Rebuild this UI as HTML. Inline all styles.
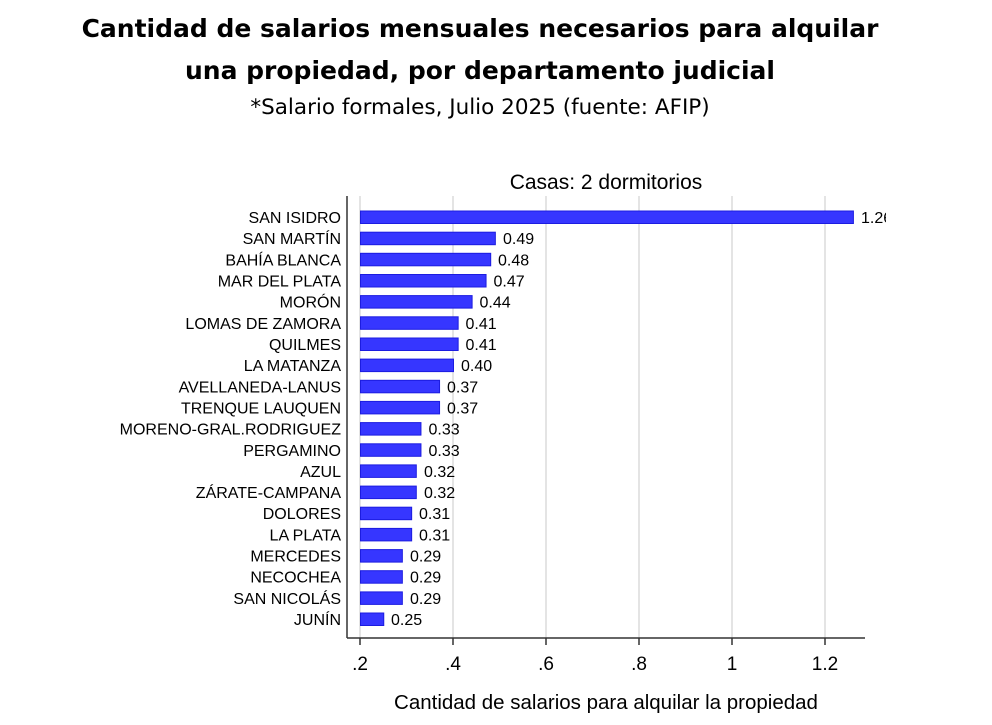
<!DOCTYPE html>
<html><head><meta charset="utf-8"><style>
body{margin:0;background:#fff;width:992px;height:725px;overflow:hidden}
svg{display:block}
</style></head><body>
<svg width="992" height="725" xmlns="http://www.w3.org/2000/svg" font-family="Liberation Sans, Arial, sans-serif">
<text x="480" y="37" text-anchor="middle" font-family="DejaVu Sans, sans-serif" font-weight="bold" font-size="25">Cantidad de salarios mensuales necesarios para alquilar</text>
<text x="480" y="79" text-anchor="middle" font-family="DejaVu Sans, sans-serif" font-weight="bold" font-size="25">una propiedad, por departamento judicial</text>
<text x="480" y="114" text-anchor="middle" font-family="DejaVu Sans, sans-serif" font-size="21.5">*Salario formales, Julio 2025 (fuente: AFIP)</text>
<text x="606" y="189" text-anchor="middle" font-size="21">Casas: 2 dormitorios</text>
<g stroke="#dcdcdc" stroke-width="1.5">
<line x1="360" y1="196" x2="360" y2="638"/><line x1="453" y1="196" x2="453" y2="638"/><line x1="546" y1="196" x2="546" y2="638"/><line x1="639" y1="196" x2="639" y2="638"/><line x1="732" y1="196" x2="732" y2="638"/><line x1="825" y1="196" x2="825" y2="638"/>
</g>
<g stroke="#333" stroke-width="1.5" fill="none">
<line x1="347" y1="196" x2="347" y2="638"/><line x1="347" y1="638" x2="865" y2="638"/>
<line x1="360" y1="638" x2="360" y2="645"/><line x1="453" y1="638" x2="453" y2="645"/><line x1="546" y1="638" x2="546" y2="645"/><line x1="639" y1="638" x2="639" y2="645"/><line x1="732" y1="638" x2="732" y2="645"/><line x1="825" y1="638" x2="825" y2="645"/>
</g>
<g font-size="19" text-anchor="middle">
<text x="360" y="670">.2</text><text x="453" y="670">.4</text><text x="546" y="670">.6</text><text x="639" y="670">.8</text><text x="732" y="670">1</text><text x="825" y="670">1.2</text>
</g>
<text x="606" y="709" text-anchor="middle" font-size="20.5">Cantidad de salarios para alquilar la propiedad</text>
<defs><clipPath id="c"><rect x="0" y="0" width="886" height="725"/></clipPath></defs>
<g fill="#3636ff" stroke="#1c1ce0" stroke-width="1">
<rect x="360.5" y="211" width="492.9" height="12.5"/>
<rect x="360.5" y="232.2" width="134.85" height="12.5"/>
<rect x="360.5" y="253.3" width="130.2" height="12.5"/>
<rect x="360.5" y="274.5" width="125.55" height="12.5"/>
<rect x="360.5" y="295.6" width="111.6" height="12.5"/>
<rect x="360.5" y="316.8" width="97.65" height="12.5"/>
<rect x="360.5" y="338" width="97.65" height="12.5"/>
<rect x="360.5" y="359.1" width="93" height="12.5"/>
<rect x="360.5" y="380.3" width="79.05" height="12.5"/>
<rect x="360.5" y="401.4" width="79.05" height="12.5"/>
<rect x="360.5" y="422.6" width="60.45" height="12.5"/>
<rect x="360.5" y="443.8" width="60.45" height="12.5"/>
<rect x="360.5" y="464.9" width="55.8" height="12.5"/>
<rect x="360.5" y="486.1" width="55.8" height="12.5"/>
<rect x="360.5" y="507.2" width="51.15" height="12.5"/>
<rect x="360.5" y="528.4" width="51.15" height="12.5"/>
<rect x="360.5" y="549.6" width="41.85" height="12.5"/>
<rect x="360.5" y="570.7" width="41.85" height="12.5"/>
<rect x="360.5" y="591.9" width="41.85" height="12.5"/>
<rect x="360.5" y="613" width="23.25" height="12.5"/>
</g>
<g font-size="16" clip-path="url(#c)">
<text x="861" y="223">1.26</text>
<text x="503" y="244.2">0.49</text>
<text x="498" y="265.3">0.48</text>
<text x="493.5" y="286.5">0.47</text>
<text x="479.5" y="307.6">0.44</text>
<text x="465.5" y="328.8">0.41</text>
<text x="465.5" y="350">0.41</text>
<text x="461" y="371.1">0.40</text>
<text x="447" y="392.3">0.37</text>
<text x="447" y="413.4">0.37</text>
<text x="428.5" y="434.6">0.33</text>
<text x="428.5" y="455.8">0.33</text>
<text x="424" y="476.9">0.32</text>
<text x="424" y="498.1">0.32</text>
<text x="419" y="519.2">0.31</text>
<text x="419" y="540.4">0.31</text>
<text x="410" y="561.6">0.29</text>
<text x="410" y="582.7">0.29</text>
<text x="410" y="603.9">0.29</text>
<text x="391" y="625">0.25</text>
</g>
<g font-size="16" text-anchor="end">
<text x="341" y="223">SAN ISIDRO</text>
<text x="341" y="244.2">SAN MARTÍN</text>
<text x="341" y="265.3">BAHÍA BLANCA</text>
<text x="341" y="286.5">MAR DEL PLATA</text>
<text x="341" y="307.6">MORÓN</text>
<text x="341" y="328.8">LOMAS DE ZAMORA</text>
<text x="341" y="350">QUILMES</text>
<text x="341" y="371.1">LA MATANZA</text>
<text x="341" y="392.3">AVELLANEDA-LANUS</text>
<text x="341" y="413.4">TRENQUE LAUQUEN</text>
<text x="341" y="434.6">MORENO-GRAL.RODRIGUEZ</text>
<text x="341" y="455.8">PERGAMINO</text>
<text x="341" y="476.9">AZUL</text>
<text x="341" y="498.1">ZÁRATE-CAMPANA</text>
<text x="341" y="519.2">DOLORES</text>
<text x="341" y="540.4">LA PLATA</text>
<text x="341" y="561.6">MERCEDES</text>
<text x="341" y="582.7">NECOCHEA</text>
<text x="341" y="603.9">SAN NICOLÁS</text>
<text x="341" y="625">JUNÍN</text>
</g>
</svg>
</body></html>
